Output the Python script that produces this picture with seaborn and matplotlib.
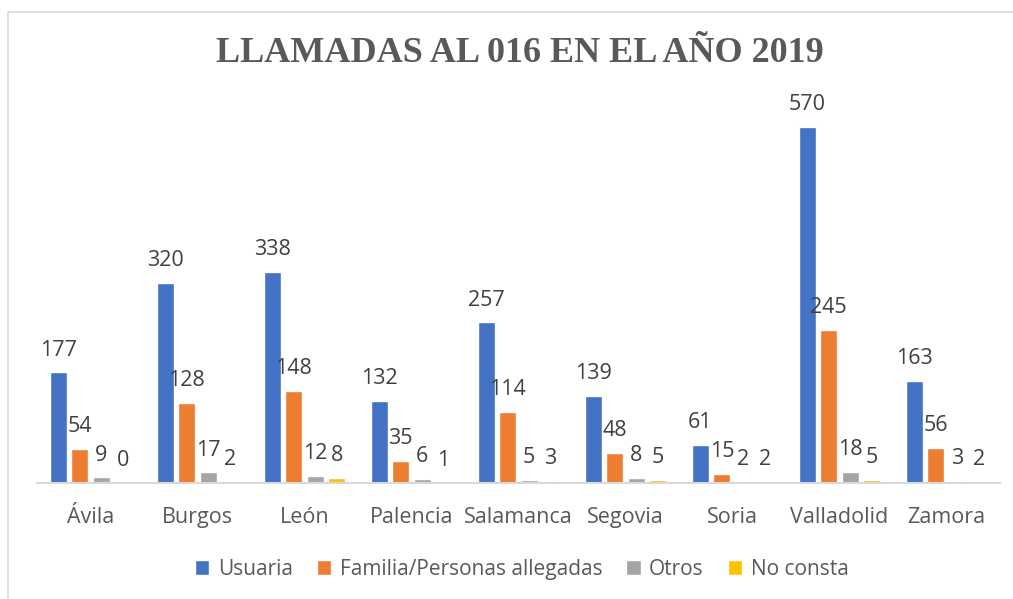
import matplotlib
matplotlib.use("Agg")
import matplotlib.pyplot as plt
from matplotlib.patches import Rectangle
import seaborn as sns
import pandas as pd

provincias = ["Ávila", "Burgos", "León", "Palencia", "Salamanca", "Segovia", "Soria", "Valladolid", "Zamora"]
series = ["Usuaria", "Familia/Personas allegadas", "Otros", "No consta"]
usuaria = [177, 320, 338, 132, 257, 139, 61, 570, 163]
familia = [54, 128, 148, 35, 114, 48, 15, 245, 56]
otros = [9, 17, 12, 6, 5, 8, 2, 18, 3]
no_consta = [0, 2, 8, 1, 3, 5, 2, 5, 2]
colores = ["#4472C4", "#ED7D31", "#A5A5A5", "#FFC000"]
titulo = "LLAMADAS AL 016 EN EL AÑO 2019"

rows = []
for s, vals in zip(series, [usuaria, familia, otros, no_consta]):
    for p, v in zip(provincias, vals):
        rows.append({"Provincia": p, "Serie": s, "Valor": v})
df = pd.DataFrame(rows)

sns.set_theme(style="white")
plt.rcParams["font.family"] = ["Open Sans", "DejaVu Sans"]
text_color = "#595959"

fig = plt.figure(figsize=(10.13, 5.99), dpi=100)
ax = fig.add_axes([37/1013, (599-483)/599, (1000-37)/1013, (483-90)/599])

sns.barplot(data=df, x="Provincia", y="Valor", hue="Serie", order=provincias,
            hue_order=series, palette=colores, ax=ax, width=0.8, gap=0.2,
            legend=True, saturation=1)

for cont in ax.containers:
    ax.bar_label(cont, padding=8.5, fontsize=15.5, color="#404040")

ax.set_ylim(0, 393/0.6246)
ax.set_xlim(-0.5, 8.5)
ax.set_xlabel("")
ax.set_ylabel("")
ax.set_yticks([])
for side in ["top", "right", "left"]:
    ax.spines[side].set_visible(False)
ax.spines["bottom"].set_color("#D9D9D9")
ax.spines["bottom"].set_linewidth(1.5)
ax.tick_params(axis="x", length=0, pad=17, labelsize=15.5, labelcolor=text_color)

handles, labels = ax.get_legend_handles_labels()
ax.get_legend().remove()
fig.legend(handles, labels, loc="center", bbox_to_anchor=(0.515, 0.05), ncol=4,
           frameon=False, handlelength=0.7, handleheight=0.7, handletextpad=0.4,
           columnspacing=1.15, fontsize=15, labelcolor=text_color)

fig.text(0.513, 1 - 53/599, titulo, ha="center", va="center",
         fontsize=26, fontweight="bold", color=text_color,
         family=["Liberation Serif", "DejaVu Serif"])

fig.patches.append(Rectangle((8/1013, -0.1), 1.2, 1 - 12/599 + 0.1,
                             transform=fig.transFigure, fill=False,
                             edgecolor="#D9D9D9", linewidth=1.2))

fig.savefig("out.png", dpi=100)
